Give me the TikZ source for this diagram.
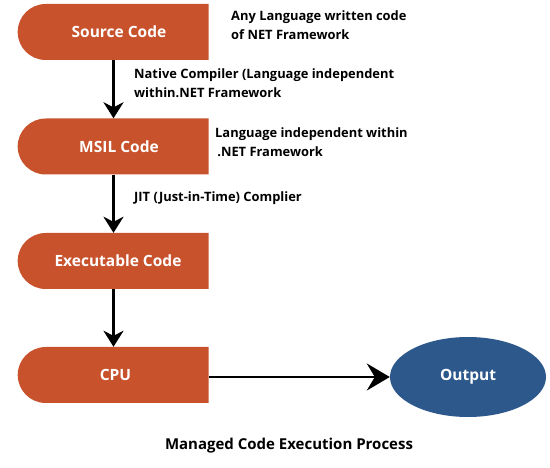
\documentclass[tikz,border=0pt]{standalone}
\usepackage{fontspec}
\setmainfont{Open Sans}
\usetikzlibrary{shapes.misc,shapes.geometric,arrows.meta}
\definecolor{boxor}{RGB}{200,82,44}
\definecolor{outblue}{RGB}{45,88,140}
\begin{document}
\begin{tikzpicture}[x=1pt,y=-1pt,
  stepbox/.style={rounded rectangle, rounded rectangle right arc=none, fill=boxor,
    minimum width=191pt, minimum height=56pt, inner sep=0pt, text=white,
    font=\fontsize{15.5}{18}\selectfont\bfseries},
  outnode/.style={ellipse, fill=outblue, minimum width=156pt, minimum height=80pt,
    inner sep=0pt, text=white, font=\fontsize{15.5}{18}\selectfont\bfseries},
  lbl/.style={anchor=north west, align=left, inner sep=0pt,
    font=\fontsize{12.9}{18.5}\selectfont\bfseries},
  conn/.style={line width=2.5pt, -{Stealth[length=16pt,width=20pt,inset=5pt]}},
  hconn/.style={line width=2.5pt, -{Stealth[length=23pt,width=27pt,inset=8pt]}}]
\useasboundingbox (0,0) rectangle (550,468);
\node[stepbox] (src) at (113.5,32) {\hspace*{11pt}Source Code};
\node[stepbox] (msil) at (113.5,146.5) {\hspace*{11pt}MSIL Code};
\node[stepbox] (exe) at (113.5,261) {\hspace*{9pt}Executable Code};
\node[stepbox] (cpu) at (113.5,375) {\hspace*{4pt}CPU};
\node[outnode] (out) at (468,377) {Output};
\draw[conn] (src.south) -- (msil.north);
\draw[conn] (msil.south) -- (exe.north);
\draw[conn] (exe.south) -- (cpu.north);
\draw[hconn] (cpu.east |- out.west) -- (out.west);
\node[lbl] (l1) at (231,11) {Any Language written code\\of NET Framework};
\node[lbl] (l2) at (134,69) {Native Compiler (Language independent\\within.NET Framework};
\node[lbl] (l3) at (215,128) {Language independent within\\\,.NET Framework};
\node[lbl] (l4) at (134,192) {JIT (Just-in-Time) Complier};
\node[font=\fontsize{15}{18}\selectfont\bfseries] (title) at (289,446) {Managed Code Execution Process};
\end{tikzpicture}
\end{document}
